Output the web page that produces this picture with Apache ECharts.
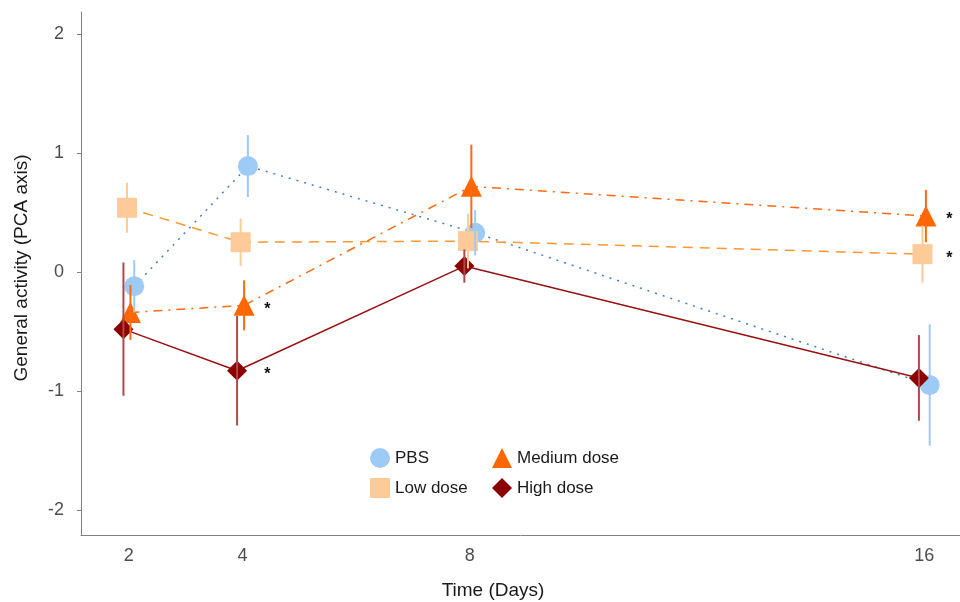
<!DOCTYPE html>
<html>
<head>
<meta charset="utf-8">
<script src="https://cdn.jsdelivr.net/npm/echarts@6/dist/echarts.min.js"></script>
<style>
html,body{margin:0;padding:0;background:#fff;}
#chart{width:960px;height:602px;}
</style>
</head>
<body>
<div id="chart"></div>
<script>
// ---- data ----
var days = [2, 4, 8, 16];
var groups = ['PBS', 'Low dose', 'Medium dose', 'High dose'];
var pbsMean  = [-0.12, 0.89, 0.33, -0.95];
var pbsErr   = [0.22, 0.26, 0.19, 0.51];
var lowMean  = [0.54, 0.25, 0.26, 0.15];
var lowErr   = [0.21, 0.20, 0.23, 0.24];
var medMean  = [-0.34, -0.28, 0.72, 0.47];
var medErr   = [0.23, 0.21, 0.35, 0.22];
var highMean = [-0.48, -0.83, 0.05, -0.89];
var highErr  = [0.56, 0.46, 0.14, 0.36];
// significance marks (day, group)
var sigDays   = [4, 4, 16, 16];
var sigGroups = ['Medium dose', 'High dose', 'Medium dose', 'Low dose'];
var xTicks = [2, 4, 8, 16];
var yTicks = [-2, -1, 0, 1, 2];

// ---- styles ----
var FONT = 'Liberation Sans, Arial, sans-serif';
var means = {'PBS': pbsMean, 'Low dose': lowMean, 'Medium dose': medMean, 'High dose': highMean};
var errs  = {'PBS': pbsErr, 'Low dose': lowErr, 'Medium dose': medErr, 'High dose': highErr};
var dodge = {'PBS': 0.095, 'Low dose': -0.032, 'Medium dose': 0.028, 'High dose': -0.095};
var symbols = {'PBS': 'circle', 'Low dose': 'rect', 'Medium dose': 'triangle', 'High dose': 'diamond'};
var markerColor = {'PBS': '#9ecaf6', 'Low dose': '#fdca98', 'Medium dose': '#ff6600', 'High dose': '#8b0000'};
var barColor = {'PBS': '#9ecaf6', 'Low dose': '#fdca98', 'Medium dose': '#ff6a10', 'High dose': '#b04848'};
var lineColor = {'PBS': '#3f7fc0', 'Low dose': '#ff9733', 'Medium dose': '#ff6a10', 'High dose': '#991111'};
var lineType = {'PBS': [2, 6], 'Low dose': [10, 7], 'Medium dose': [9, 6, 2, 6], 'High dose': 'solid'};
var symSize = {'PBS': 20, 'Low dose': 20, 'Medium dose': 21, 'High dose': 20};

var series = [];
groups.forEach(function (g) {
  var pts = days.map(function (d, i) { return [d + dodge[g], means[g][i]]; });
  series.push({
    name: g + ' line', type: 'line', data: pts, symbol: 'none', z: 1,
    lineStyle: {color: lineColor[g], width: 1.5, type: lineType[g]},
    silent: true, animation: false
  });
});
groups.forEach(function (g) {
  var pts = days.map(function (d, i) { return [d + dodge[g], means[g][i]]; });
  series.push({
    name: g, type: 'scatter', data: pts, symbol: symbols[g], symbolSize: symSize[g], z: 2,
    itemStyle: {color: markerColor[g], opacity: 1}, animation: false
  });
});
groups.forEach(function (g) {
  var pts = days.map(function (d, i) { return [d + dodge[g], means[g][i] - errs[g][i], means[g][i] + errs[g][i]]; });
  series.push({
    name: g + ' err', type: 'custom', data: pts, z: 3, animation: false, silent: true,
    encode: {x: 0, y: [1, 2]},
    renderItem: function (params, api) {
      var p1 = api.coord([api.value(0), api.value(1)]);
      var p2 = api.coord([api.value(0), api.value(2)]);
      return {type: 'line', shape: {x1: p1[0], y1: p1[1], x2: p2[0], y2: p2[1]},
        style: {stroke: barColor[g], lineWidth: 2}};
    }
  });
});
var sigData = sigDays.map(function (d, i) {
  return [d, means[sigGroups[i]][days.indexOf(d)]];
});
series.push({
  name: 'sig', type: 'custom', data: sigData, z: 4, animation: false, silent: true,
  encode: {x: 0, y: 1},
  renderItem: function (params, api) {
    var p = api.coord([api.value(0), api.value(1)]);
    return {type: 'text', x: p[0] + 25, y: p[1] + 4,
      style: {text: '*', fill: '#111', font: 'bold 16px ' + FONT, align: 'center', verticalAlign: 'middle'}};
  }
});

var chart = echarts.init(document.getElementById('chart'), null, {renderer: 'canvas'});
chart.setOption({
  backgroundColor: '#fff',
  animation: false,
  grid: {left: 81, right: 0, top: 12, bottom: 67},
  xAxis: {
    type: 'value', min: 1.158, max: 16.628,
    axisLine: {show: true, onZero: false, lineStyle: {color: '#808080', width: 1}},
    axisTick: {show: false},
    splitLine: {show: false},
    axisLabel: {customValues: xTicks, color: '#4d4d4d', fontSize: 18, fontFamily: FONT, margin: 12}
  },
  yAxis: {
    type: 'value', min: -2.21, max: 2.185,
    axisLine: {show: true, onZero: false, lineStyle: {color: '#808080', width: 1}},
    axisTick: {show: true, customValues: yTicks, length: 4, lineStyle: {color: '#808080'}},
    splitLine: {show: false},
    axisLabel: {customValues: yTicks, color: '#4d4d4d', fontSize: 18, fontFamily: FONT, margin: 17}
  },
  legend: [{
    orient: 'vertical', left: 365, top: 443, itemGap: 10, itemWidth: 20, itemHeight: 20,
    textStyle: {fontSize: 17, color: '#1a1a1a', fontFamily: FONT, padding: [0, 0, 0, 0]},
    data: [{name: 'PBS', icon: 'circle'}, {name: 'Low dose', icon: 'rect'}],
    selectedMode: false
  }, {
    orient: 'vertical', left: 487, top: 443, itemGap: 10, itemWidth: 20, itemHeight: 20,
    textStyle: {fontSize: 17, color: '#1a1a1a', fontFamily: FONT, padding: [0, 0, 0, 0]},
    data: [{name: 'Medium dose', icon: 'triangle'}, {name: 'High dose', icon: 'diamond'}],
    selectedMode: false
  }],
  graphic: [{
    type: 'text', x: 493, y: 591,
    style: {text: 'Time (Days)', font: '19px ' + FONT, fill: '#1a1a1a', align: 'center', verticalAlign: 'middle'}
  }, {
    type: 'text', x: 22, y: 268, rotation: Math.PI / 2,
    style: {text: 'General activity (PCA axis)', font: '19px ' + FONT, fill: '#1a1a1a', align: 'center', verticalAlign: 'middle'}
  }],
  series: series
});
</script>
</body>
</html>
